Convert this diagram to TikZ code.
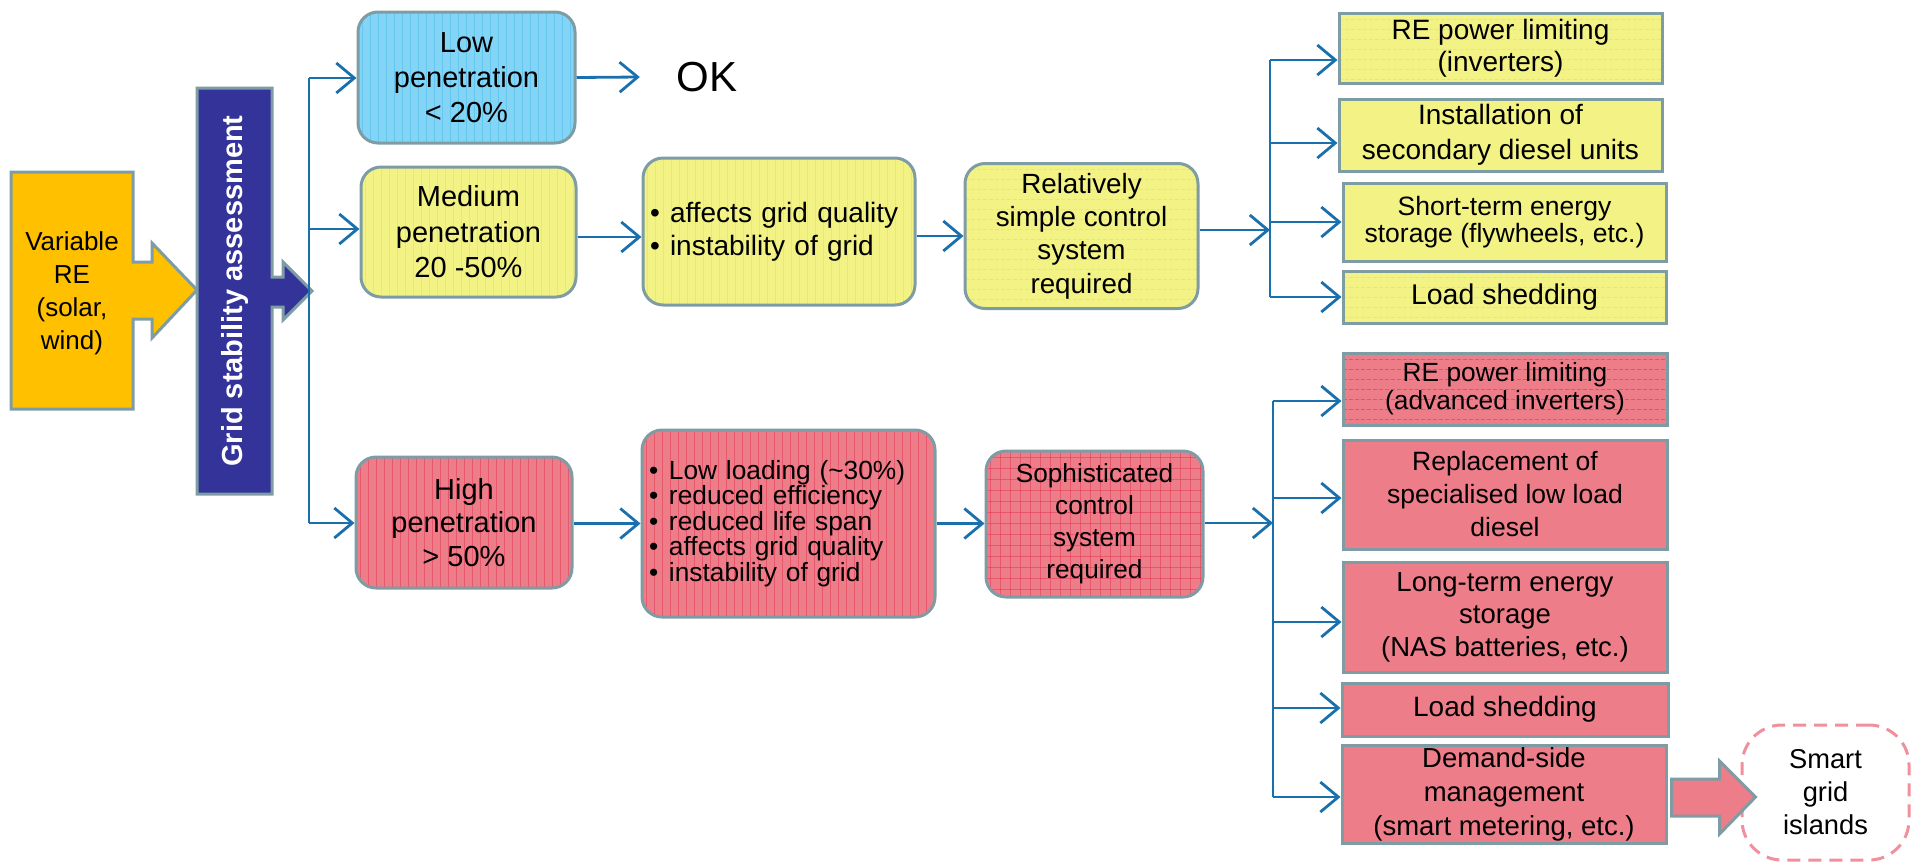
\documentclass[tikz,border=0pt]{standalone}
\usepackage{fontspec}
\setmainfont{Liberation Sans}
\usetikzlibrary{arrows.meta,calc}
\definecolor{cblue}{HTML}{1A70AC}
\definecolor{bord}{HTML}{7E9CA4}
\definecolor{lblue}{HTML}{84D4F6}
\definecolor{yfill}{HTML}{F2F285}
\definecolor{rfill}{HTML}{EE7D8A}
\definecolor{ofill}{HTML}{FFC000}
\definecolor{indigo}{HTML}{333399}
\definecolor{pinkd}{HTML}{F0909C}
\definecolor{rstripe}{HTML}{E2354F}
\definecolor{ystripe}{HTML}{E6E640}
\definecolor{bstripe}{HTML}{3FB8EC}
\tikzset{
  rbx/.style={draw=bord, line width=3pt, rounded corners=20pt, align=center, inner sep=2pt},
  sbx/.style={draw=bord, line width=3pt, align=center, inner sep=2pt},
  conn/.style={draw=cblue, line width=2.8pt, -{Straight Barb[length=18pt,width=30pt]}},
  bline/.style={draw=cblue, line width=2.8pt},
  vstripes/.style={path picture={\foreach \k in {4,12,...,330}{\draw[#1, line width=0.9pt] ([xshift=\k pt]path picture bounding box.north west) -- ([xshift=\k pt]path picture bounding box.south west);}}},
  hstripes/.style={path picture={\foreach \k in {6,16,...,200}{\draw[#1, line width=0.9pt, dash pattern=on 4pt off 2pt] ([yshift=-\k pt]path picture bounding box.north west) -- ([yshift=-\k pt]path picture bounding box.north east);}}},
  gstripes/.style={path picture={\foreach \k in {4,14,...,330}{\draw[#1, line width=0.8pt] ([xshift=\k pt]path picture bounding box.north west) -- ([xshift=\k pt]path picture bounding box.south west);}
     \foreach \k in {6,17,...,200}{\draw[#1, line width=0.8pt] ([yshift=-\k pt]path picture bounding box.north west) -- ([yshift=-\k pt]path picture bounding box.north east);}}},
}
\newcommand{\bul}{\makebox[20pt][l]{•}}
\begin{document}
\begin{tikzpicture}[x=1pt,y=-1pt]
\useasboundingbox (0,0) rectangle (1921,863);

% Variable RE shape
\draw[fill=ofill, draw=bord, line width=3pt, line join=miter]
  (11,172) -- (133,172) -- (133,262) -- (152,262) -- (152,243) -- (197,290)
  -- (152,338) -- (152,319) -- (133,319) -- (133,409) -- (11,409) -- cycle;
\node[align=center, font=\fontsize{26}{33}\selectfont] (var) at (72,293) {Variable\\RE\\(solar,\\wind)};

% Grid stability bar
\draw[fill=indigo, draw=bord, line width=3pt, line join=miter]
  (197,88) -- (272,88) -- (272,277) -- (283,277) -- (283,262) -- (312,291)
  -- (283,320) -- (283,307) -- (272,307) -- (272,494) -- (197,494) -- cycle;
\node[rotate=90, text=white, font=\bfseries\fontsize{29}{35}\selectfont] (gsa) at (235,291) {Grid stability assessment};

% Penetration boxes
\node[rbx, fill=lblue, vstripes={bstripe, opacity=.45}, minimum width=217pt, minimum height=131pt, font=\fontsize{29}{35}\selectfont] (low) at (466.5,77.5) {Low\\penetration\\< 20\%};
\node[rbx, fill=yfill, vstripes={ystripe, opacity=.5}, minimum width=215pt, minimum height=130pt, font=\fontsize{29}{35.5}\selectfont] (med) at (468.5,232) {Medium\\penetration\\20 -50\%};
\node[rbx, fill=rfill, vstripes={rstripe, opacity=.5}, minimum width=216pt, minimum height=131pt, font=\fontsize{29}{33.5}\selectfont] (high) at (464,522.5) {High\\penetration\\> 50\%};

\node[minimum width=134pt, font=\fontsize{42}{50}\selectfont, inner sep=0pt] (ok) at (707,77) {OK};

% Effects
\node[rbx, fill=yfill, vstripes={ystripe, opacity=.5}, minimum width=272pt, minimum height=147pt, text width=258pt, align=left, inner xsep=7pt, font=\fontsize{28}{33}\selectfont] (eff1) at (779,231.5) {\bul affects grid quality\\\bul instability of grid};
\node[rbx, fill=rfill, vstripes={rstripe, opacity=.5}, minimum width=293pt, minimum height=187pt, text width=279pt, align=left, inner xsep=7pt, font=\fontsize{26.3}{25.5}\selectfont] (eff2) at (788.5,523.5) {\bul Low loading (\textasciitilde 30\%)\\\bul reduced efficiency\\\bul reduced life span\\\bul affects grid quality\\\bul instability of grid};

% Control systems
\node[rbx, fill=yfill, hstripes={ystripe, opacity=.6}, minimum width=233pt, minimum height=145pt, font=\fontsize{27.8}{33.3}\selectfont] (rel) at (1081.5,236) {Relatively\\simple control\\system\\required};
\node[rbx, fill=rfill, gstripes={rstripe, opacity=.5}, minimum width=217pt, minimum height=146pt, font=\fontsize{26.2}{32}\selectfont] (soph) at (1094.5,524) {Sophisticated\\control\\system\\required};

% Right top measures
\node[sbx, fill=yfill, hstripes={ystripe, opacity=.6}, minimum width=323pt, minimum height=70pt, font=\fontsize{28}{32}\selectfont] (a1) at (1500.5,48) {RE power limiting\\(inverters)};
\node[sbx, fill=yfill, minimum width=323pt, minimum height=72pt, font=\fontsize{28}{35}\selectfont] (a2) at (1500.5,135) {Installation of\\secondary diesel units};
\node[sbx, fill=yfill, minimum width=323pt, minimum height=78pt, font=\fontsize{26.5}{26.5}\selectfont] (a3) at (1504.5,222) {Short-term energy\\storage (flywheels, etc.)};
\node[sbx, fill=yfill, hstripes={ystripe, opacity=.6}, minimum width=323pt, minimum height=52pt, font=\fontsize{28.5}{33}\selectfont] (a4) at (1504.5,297) {Load shedding};

% Right bottom measures
\node[sbx, fill=rfill, hstripes={rstripe, opacity=.6}, minimum width=324pt, minimum height=72pt, font=\fontsize{26.3}{28}\selectfont] (b1) at (1505,389) {RE power limiting\\(advanced inverters)};
\node[sbx, fill=rfill, minimum width=324pt, minimum height=109pt, font=\fontsize{26.5}{33}\selectfont] (b2) at (1505,494.5) {Replacement of\\specialised low load\\diesel};
\node[sbx, fill=rfill, minimum width=324pt, minimum height=110pt, font=\fontsize{27.5}{32.5}\selectfont] (b3) at (1505,617) {Long-term energy\\storage\\(NAS batteries, etc.)};
\node[sbx, fill=rfill, minimum width=326pt, minimum height=53pt, font=\fontsize{28}{33}\selectfont] (b4) at (1505,709.5) {Load shedding};
\node[sbx, fill=rfill, minimum width=324pt, minimum height=98pt, font=\fontsize{27.5}{34}\selectfont] (b5) at (1504,794) {Demand-side\\management\\(smart metering, etc.)};

% Smart grid islands
\node[draw=pinkd, line width=3pt, dash pattern=on 13pt off 8pt, rounded corners=40pt, minimum width=167pt, minimum height=135pt, align=center, font=\fontsize{27.3}{33}\selectfont] (sgi) at (1825.5,792.5) {Smart\\grid\\islands};

% Thick arrow demand -> smart grid
\draw[fill=rfill, draw=bord, line width=3pt, line join=miter]
  ($(b5.east)+(4,-15)$) -- ++(48,0) -- ++(0,-18) -- ++(36,36) -- ++(-36,37) -- ++(0,-18) -- ++(-48,0) -- cycle;

% Branch from grid stability
\coordinate (g1) at (309,78);
\coordinate (g2) at (309,229);
\coordinate (g3) at (309,523);
\draw[bline] (g1) -- (g3);
\draw[conn] (g1) -- (g1 -| low.west);
\draw[conn] (g2) -- (g2 -| med.west);
\draw[conn] (g3) -- (g3 -| high.west);

% Flow connectors
\draw[conn] (low.east) -- (ok.west);
\draw[conn] (med.east |- 0,237) -- (eff1.west |- 0,237);
\draw[conn] (eff1.east |- 0,236) -- (rel.west |- 0,236);
\draw[conn] (high.east |- eff2.west) -- (eff2.west);
\draw[conn] (eff2.east) -- (soph.west |- eff2.east);

% Top right branch
\coordinate (t1) at (1270,60);
\coordinate (t2) at (1270,143);
\coordinate (t3) at (1270,222);
\coordinate (t4) at (1270,297);
\draw[bline] (t1) -- (t4);
\draw[conn] (rel.east |- 0,230) -- (t1 |- 0,230);
\draw[conn] (t1) -- (t1 -| a1.west);
\draw[conn] (t2) -- (t2 -| a2.west);
\draw[conn] (t3) -- (t3 -| a3.west);
\draw[conn] (t4) -- (t4 -| a4.west);

% Bottom right branch
\coordinate (u1) at (1273,401);
\coordinate (u2) at (1273,498);
\coordinate (u3) at (1273,622);
\coordinate (u4) at (1273,708);
\coordinate (u5) at (1273,797);
\draw[bline] (u1) -- (u5);
\draw[conn] (soph.east |- 0,523) -- (u1 |- 0,523);
\draw[conn] (u1) -- (u1 -| b1.west);
\draw[conn] (u2) -- (u2 -| b2.west);
\draw[conn] (u3) -- (u3 -| b3.west);
\draw[conn] (u4) -- (u4 -| b4.west);
\draw[conn] (u5) -- (u5 -| b5.west);
\end{tikzpicture}
\end{document}
